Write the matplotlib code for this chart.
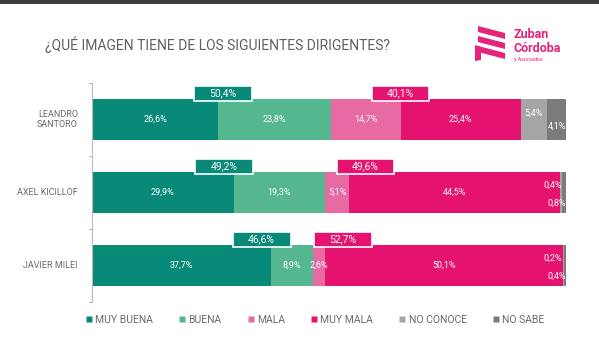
import matplotlib.pyplot as plt
from matplotlib.patches import Rectangle, Polygon
from matplotlib.lines import Line2D

plt.rcParams['font.family'] = ['Roboto', 'DejaVu Sans']

title = '¿QUÉ IMAGEN TIENE DE LOS SIGUIENTES DIRIGENTES?'
people = ['LEANDRO\nSANTORO', 'AXEL KICILLOF', 'JAVIER MILEI']
categories = ['MUY BUENA', 'BUENA', 'MALA', 'MUY MALA', 'NO CONOCE', 'NO SABE']
colors = ['#098a79', '#55b78f', '#e86aa3', '#e5136f', '#a5a5a5', '#7b7b7b']

muy_buena = [26.6, 29.9, 37.7]
buena = [23.8, 19.3, 8.9]
mala = [14.7, 5.1, 2.6]
muy_mala = [25.4, 44.5, 50.1]
no_conoce = [5.4, 0.4, 0.2]
no_sabe = [4.1, 0.8, 0.4]

positive = [50.4, 49.2, 46.6]
negative = [40.1, 49.6, 52.7]
# centre of the summary boxes along the x axis
positive_box_x = [27.6, 27.9, 35.8]
negative_box_x = [65.1, 57.7, 52.9]

series = [muy_buena, buena, mala, muy_mala, no_conoce, no_sabe]


def fmt(v):
    return f'{v:.1f}'.replace('.', ',') + '%'


fig = plt.figure(figsize=(5.99, 3.40), dpi=100)
fig.patch.set_facecolor('white')

# dark strip along the top edge
fig.add_artist(Rectangle((0, 1 - 4 / 340), 1, 4 / 340, transform=fig.transFigure,
                         facecolor='#3c3c3c', edgecolor='none'))

ax = fig.add_axes([92 / 599, 38 / 340, 474 / 599, 219 / 340])
bar_h = 0.55
ys = range(len(people))

left = [0.0] * len(people)
for k, (vals, col) in enumerate(zip(series, colors)):
    ax.barh(ys, vals, left=left, height=bar_h, color=col, edgecolor='none', zorder=2)
    for i, v in enumerate(vals):
        start = left[i]
        if k < 4:
            ax.text(start + v / 2, i, fmt(v), ha='center', va='center',
                    color='white', fontsize=6.5, zorder=4)
        elif k == 4:
            if v > 3:
                ax.text(start + v / 2, i - 0.08, fmt(v), ha='center', va='center',
                        color='white', fontsize=6.5, zorder=4)
            else:
                ax.text(99.2, i - 0.1, fmt(v), ha='right', va='center',
                        color='white', fontsize=6.5, zorder=4)
        else:
            ax.text(100.0, i + 0.09 if v > 3 else i + 0.15, fmt(v), ha='right',
                    va='center', color='white', fontsize=6.5, zorder=4)
    left = [l + v for l, v in zip(left, vals)]

# summary boxes above each bar
box_w = 12.2
box_h = 0.2
for i in ys:
    top = i - bar_h / 2
    for cx, val, col in [(positive_box_x[i], positive[i], colors[0]),
                         (negative_box_x[i], negative[i], colors[3])]:
        ax.add_patch(Rectangle((cx - box_w / 2, top + 0.02), box_w, -box_h,
                               facecolor=col, edgecolor='white', linewidth=1.2,
                               zorder=5, clip_on=False))
        ax.text(cx, top + 0.02 - box_h / 2, fmt(val), ha='center', va='center',
                color='white', fontsize=7.5, zorder=6)

ax.set_xlim(0, 100)
ax.set_ylim(2.5, -0.5)
ax.set_xticks([])
ax.set_yticks([-0.5, 0.5, 1.5, 2.5])
ax.set_yticklabels([])
ax.tick_params(axis='y', length=2.5, color='#999999', width=0.6)
for i, name in enumerate(people):
    ax.text(-3, i, name, ha='right', va='center', color='#6a6a6a', fontsize=6.5,
            linespacing=1.25)
for s in ['top', 'right', 'bottom']:
    ax.spines[s].set_visible(False)
ax.spines['left'].set_color('#bbbbbb')
ax.spines['left'].set_linewidth(0.8)

fig.text(45 / 599, 1 - 45 / 340, title, ha='left', va='center',
         color='#5f5f5f', fontsize=10)

# logo
pink = '#e4237a'
to_fig = lambda pts: [(x / 599, 1 - y / 340) for x, y in pts]
for dy in [0, 10, 20]:
    fig.add_artist(Polygon(to_fig([(478, 26 + dy), (505, 33 + dy), (505, 39 + dy), (478, 32 + dy)]),
                           closed=True, facecolor=pink, edgecolor='none'))
fig.add_artist(Polygon(to_fig([(475, 45), (481, 47), (481, 60), (475, 61)]),
                       closed=True, facecolor=pink, edgecolor='none'))
fig.text(513 / 599, 1 - 35 / 340, 'Zuban', ha='left', va='center', color=pink,
         fontsize=9, fontweight='bold')
fig.text(513 / 599, 1 - 48 / 340, 'Córdoba', ha='left', va='center', color=pink,
         fontsize=9, fontweight='bold')
fig.text(514 / 599, 1 - 59 / 340, 'y Asociados', ha='left', va='center', color=pink,
         fontsize=3.8)

handles = [Line2D([], [], marker='s', linestyle='none', markersize=4.5,
                  markerfacecolor=c, markeredgecolor='none') for c in colors]
fig.legend(handles, categories, loc='center', bbox_to_anchor=(314 / 599, 1 - 320 / 340),
           ncol=6, frameon=False, fontsize=7.5, labelcolor='#6a6a6a',
           handletextpad=0.1, columnspacing=2.3, handlelength=1.0)

fig.savefig('out.png', dpi=100, facecolor='white')
